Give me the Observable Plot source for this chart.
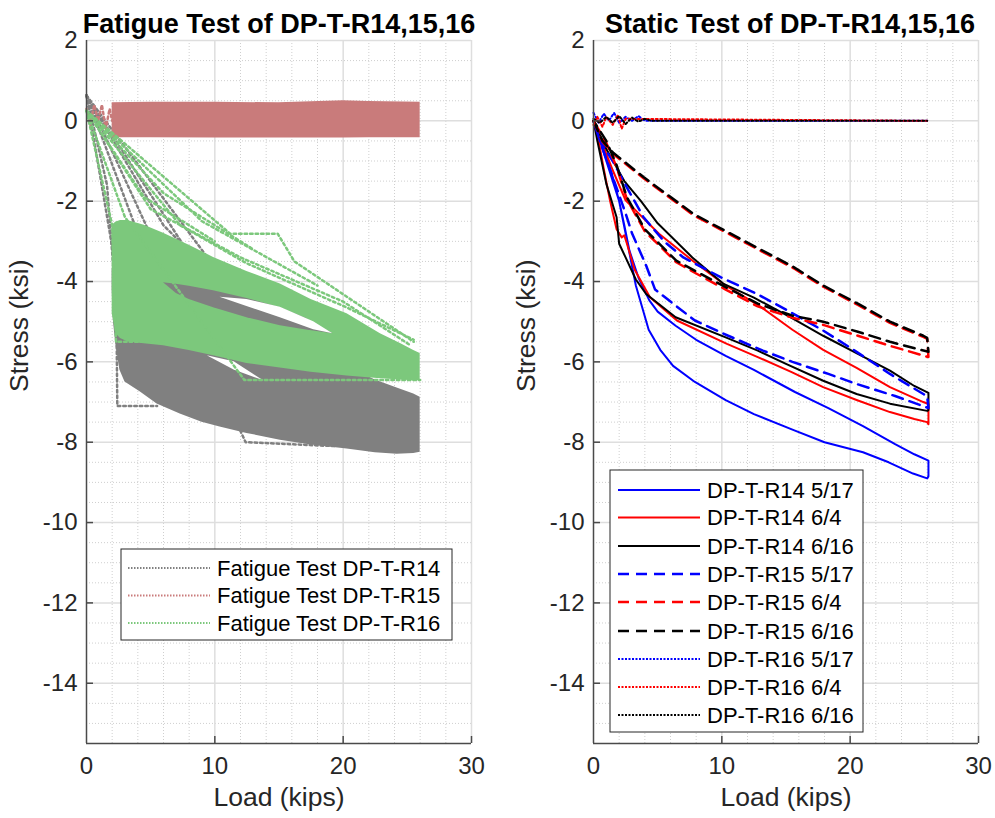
<!DOCTYPE html>
<html><head><meta charset="utf-8">
<script src="https://cdn.jsdelivr.net/npm/d3@7"></script>
<script src="https://cdn.jsdelivr.net/npm/@observablehq/plot@0.6"></script>
<style>
html,body{margin:0;padding:0;background:#fff;}
#wrap{position:relative;width:995px;height:818px;overflow:hidden;}
#left{position:absolute;left:0;top:0;}
#right{position:absolute;left:497px;top:0;}
</style></head><body><div id="wrap"><div id="left"></div><div id="right"></div></div>
<script>
// ---------- axes / ticks ----------
const xMajor = [0, 10, 20, 30];
const xMinor = [2, 4, 6, 8, 12, 14, 16, 18, 22, 24, 26, 28];
const yMajor = [2, 0, -2, -4, -6, -8, -10, -12, -14];
const yMinor = [1.5, 1, 0.5, -0.5, -1, -1.5, -2.5, -3, -3.5, -4.5, -5, -5.5, -6.5, -7, -7.5, -8.5, -9, -9.5, -10.5, -11, -11.5, -12.5, -13, -13.5, -14.5, -15];
const xDomain = [0, 30];
const yDomain = [-15.5, 2];

const leftTitle = "Fatigue Test of DP-T-R14,15,16";
const rightTitle = "Static Test of DP-T-R14,15,16";
const xLabel = "Load (kips)";
const yLabel = "Stress (ksi)";

// ---------- fatigue test (left) ----------
const fatigueNames = ["Fatigue Test DP-T-R14", "Fatigue Test DP-T-R15", "Fatigue Test DP-T-R16"];
const fatigueColors = ["#808080", "#c97b7b", "#7cc87c"];

// R14 band (gray)
const r14BandX    = [2.0, 2.1, 2.3, 2.6, 3.0, 4.2, 5.5, 7.3, 9.0, 10.4, 12.5, 15.1, 17.5, 20.3, 22.5, 24.2, 25.5, 26.0];
const r14BandHigh = [-3.68, -3.69, -3.7, -3.75, -3.8, -3.9, -4.0, -4.2, -4.4, -4.6, -4.85, -5.15, -5.6, -6.1, -6.45, -6.65, -6.8, -6.88];
const r14BandLow  = [-4.2, -5.0, -5.6, -6.2, -6.5, -6.75, -7.05, -7.3, -7.5, -7.62, -7.78, -7.95, -8.07, -8.17, -8.26, -8.3, -8.28, -8.25];
// white gaps inside the R14 band
const r14GapX    = [9.4, 11.5, 13.8];
const r14GapHigh = [-5.85, -6.0, -6.47];
const r14GapLow  = [-5.85, -6.2, -6.47];
// R15 band (red)
const r15BandX    = [2.0, 5, 10, 15, 20, 22, 26.0];
const r15BandHigh = [0.45, 0.46, 0.46, 0.45, 0.5, 0.48, 0.46];
const r15BandLow  = [-0.42, -0.42, -0.43, -0.43, -0.43, -0.42, -0.42];
// R16 band (green)
const r16BandX    = [2.0, 2.3, 2.65, 3.2, 4.5, 6.0, 8.0, 9.9, 12.5, 15.1, 17.5, 20.3, 22.9, 24.5, 25.5, 26.0];
const r16BandHigh = [-2.6, -2.52, -2.48, -2.48, -2.6, -2.8, -3.1, -3.4, -3.75, -4.06, -4.45, -4.8, -5.3, -5.55, -5.72, -5.79];
const r16BandLow  = [-4.8, -5.3, -5.42, -5.5, -5.55, -5.6, -5.72, -5.85, -6.04, -6.15, -6.26, -6.35, -6.42, -6.45, -6.47, -6.47];
// hole inside R16 band (shows R14 beneath)
const r16HoleX    = [6.0, 7.0, 8.0, 9.9, 12.5, 15.1, 17.0, 19.2];
const r16HoleHigh = [-4.03, -4.07, -4.12, -4.23, -4.42, -4.65, -4.9, -5.3];
const r16HoleLow  = [-4.03, -4.3, -4.45, -4.65, -4.9, -5.1, -5.2, -5.3];
const r16SliverX    = [10.4, 12.5, 15.1, 17.7, 19.2];
const r16SliverHigh = [-4.39, -4.45, -4.64, -5.0, -5.3];
const r16SliverLow  = [-4.39, -4.62, -4.9, -5.2, -5.3];

// dotted ramp lines (segment id, x, y)
const r14Ramps = [
  [1, 0, 0.63], [1, 2.3, -3.7], [1, 2.4, -7.1], [1, 5.5, -7.1],
  [2, 0, 0.63], [2, 12.0, -4.5],
  [3, 0, 0.63], [3, 10.0, -4.3],
  [4, 0, 0.63], [4, 4.0, -2.8], [4, 8.0, -4.0],
  [5, 0, 0.63], [5, 12.4, -8.0], [5, 19.5, -8.1],
  [6, 0, 0.63], [6, 1.6, -1.6], [6, 2.1, -3.7],
  [7, 0, 0.63], [7, 6.0, -2.6], [7, 11.0, -4.2]
];
const r15Ramps = [
  [1, 0, 0.3], [1, 0.3, -0.1], [1, 0.6, 0.4], [1, 0.9, 0.0], [1, 1.2, 0.4], [1, 1.5, -0.2], [1, 1.8, 0.3], [1, 2.0, 0.0]
];
const r16Ramps = [
  [1, 0, 0.25], [1, 11.2, -2.81], [1, 14.9, -2.81], [1, 16.2, -3.5], [1, 25.5, -5.5],
  [2, 0, 0.25], [2, 7.3, -2.6], [2, 12.5, -3.55], [2, 20.3, -4.65], [2, 25.5, -5.45],
  [3, 0, 0.25], [3, 5.0, -2.2], [3, 12.0, -3.4], [3, 20.0, -4.5], [3, 25.3, -5.6],
  [4, 0, 0.25], [4, 2.0, -2.6], [4, 2.3, -5.5], [4, 6.0, -5.5],
  [5, 0, 0.25], [5, 3.0, -2.4], [5, 12.3, -6.45], [5, 26.0, -6.45],
  [6, 0, 0.25], [6, 4.5, -1.9], [6, 10.0, -3.0],
  [7, 0, 0.25], [7, 6.0, -1.8], [7, 13.0, -3.2],
  [8, 0, 0.25], [8, 9.0, -2.5], [8, 18.0, -4.1]
];

// ---------- static test (right) ----------
const staticNames = ["DP-T-R14 5/17", "DP-T-R14 6/4", "DP-T-R14 6/16",
                     "DP-T-R15 5/17", "DP-T-R15 6/4", "DP-T-R15 6/16",
                     "DP-T-R16 5/17", "DP-T-R16 6/4", "DP-T-R16 6/16"];
const staticColors = ["#0000ff", "#ff0000", "#000000", "#0000ff", "#ff0000", "#000000", "#0000ff", "#ff0000", "#000000"];
const staticStyles = ["solid", "solid", "solid", "dash", "dash", "dash", "dot", "dot", "dot"];

const r14_0517 = [[0,0],[1,-1.0],[2,-2.0],[2.5,-2.8],[3.3,-4.1],[4.3,-5.2],[5.2,-5.7],[6.2,-6.1],[7.9,-6.5],[10.3,-6.95],[12.5,-7.3],[15.6,-7.7],[18,-8.0],[21,-8.25],[23,-8.5],[24.9,-8.78],[26,-8.9],[26.1,-8.85],[26.1,-8.46],[25,-8.3],[23.5,-8.05],[21,-7.6],[18.3,-7.15],[15.7,-6.75],[12.5,-6.2],[10.3,-5.85],[8,-5.45],[6.4,-5.1],[5,-4.75],[4.35,-4.47],[3.5,-3.9],[2.8,-3.23],[2.4,-2.6],[2,-2.0],[1.5,-1.4],[1,-0.9],[0.5,-0.4],[0,0]];
const r14_0604 = [[0,0],[0.4,-0.5],[0.8,-1.2],[1.3,-2.0],[1.8,-2.7],[2.2,-2.9],[2.4,-2.85],[2.6,-3.05],[3.2,-3.7],[4.4,-4.39],[6.5,-4.97],[10.4,-5.55],[12.8,-5.88],[15.4,-6.25],[17.9,-6.63],[20.5,-6.95],[23.1,-7.25],[25,-7.42],[26,-7.5],[26.1,-7.55],[26.1,-7.05],[25.7,-7.0],[23.1,-6.63],[20.5,-6.15],[17.9,-5.7],[15.5,-5.2],[12.9,-4.6],[10.3,-4.1],[7.8,-3.5],[5.1,-2.81],[2.5,-1.98],[1.5,-1.23],[0.6,-0.5],[0,0]];
const r14_0616 = [[0,0],[0.3,-0.5],[1.0,-1.57],[1.8,-2.4],[2.0,-3.06],[2.5,-3.4],[3.3,-3.95],[4.1,-4.31],[6.4,-4.89],[10.3,-5.39],[12.8,-5.72],[15,-6.05],[17.9,-6.47],[20.5,-6.8],[23.1,-7.04],[26,-7.22],[26.1,-7.2],[26.1,-6.77],[25,-6.6],[23.1,-6.22],[20.6,-5.8],[17.9,-5.35],[15.4,-4.9],[12.5,-4.4],[10.1,-4.05],[7.7,-3.4],[5,-2.55],[3.7,-2.0],[2.4,-1.5],[1,-0.7],[0,0]];
const r15_0517 = [[0,0],[0.5,-0.5],[1.5,-1.0],[2.5,-1.6],[3.9,-2.4],[5.5,-3.0],[7,-3.4],[9.9,-3.89],[12.8,-4.32],[15,-4.7],[17.9,-5.22],[20.5,-5.75],[23.1,-6.3],[25.7,-6.8],[26,-6.85],[26.1,-7.15],[23.5,-6.85],[20.5,-6.55],[18.3,-6.3],[15.5,-6.0],[13.2,-5.72],[10.5,-5.35],[7.9,-4.97],[6.2,-4.55],[4.8,-4.2],[4.1,-3.6],[3,-2.8],[2.5,-2.3],[1.5,-1.4],[0.5,-0.5],[0,0]];
const r15_0604 = [[0,0],[0.7,-0.52],[1.56,-0.83],[3.9,-1.43],[7.8,-2.35],[11.7,-3.01],[15.6,-3.67],[17.9,-4.13],[20.6,-4.58],[23.1,-5.03],[25.7,-5.38],[26,-5.43],[26.1,-5.88],[23.1,-5.6],[20.6,-5.35],[17.9,-5.08],[15.5,-4.9],[12.8,-4.62],[10.3,-4.2],[8,-3.8],[6.45,-3.52],[4,-2.75],[2.6,-1.95],[1.8,-1.15],[1,-0.55],[0,0]];
const r15_0616 = [[0,0],[0.7,-0.5],[1.56,-0.8],[3.9,-1.4],[7.8,-2.32],[11.7,-2.98],[15.6,-3.64],[17.9,-4.1],[20.6,-4.55],[23.1,-5.0],[25.7,-5.35],[26,-5.4],[26.1,-5.75],[23.1,-5.5],[20.6,-5.25],[17.9,-5.0],[15.5,-4.85],[12.8,-4.55],[10.3,-4.14],[8,-3.75],[6.45,-3.48],[4,-2.7],[2.6,-1.9],[1.8,-1.1],[1,-0.5],[0,0]];
const r16_0517 = [[0,0.2],[0.4,-0.05],[0.8,0.18],[1.2,0.0],[1.6,0.2],[2.0,-0.05],[2.5,0.1],[3.0,0.0],[3.5,0.12],[4.0,0.0],[26,0.0]];
const r16_0604 = [[0,-0.1],[0.3,0.1],[0.7,-0.15],[1.0,0.1],[1.5,-0.1],[1.9,0.15],[2.2,-0.2],[2.5,0.05],[26,0.0]];
const r16_0616 = [[0,0.05],[0.5,-0.05],[1,0.1],[1.5,-0.05],[2,0.12],[2.5,-0.08],[3,0.08],[3.5,-0.02],[4,0.05],[4.5,0],[26,0]];
const staticSeries = [r14_0517, r14_0604, r14_0616, r15_0517, r15_0604, r15_0616, r16_0517, r16_0604, r16_0616];

// ---------- helpers ----------
const FONT = "'Liberation Sans', Arial, Helvetica, sans-serif";
const AXIS = "#4a4a4a";
const TXT = "#262626";
const dashOf = {solid: null, dash: "11,7", dot: "2,2.5"};
const widthOf = {solid: 2, dash: 2.5, dot: 2};

function band(xs, lo, hi) { return xs.map((x, i) => ({x, lo: lo[i], hi: hi[i]})); }
function ramps(rows) { return rows.map(([id, x, y]) => ({id, x, y})); }

function frameMarks() {
  return [
    Plot.gridY({ticks: yMinor, stroke: "#cfcfcf", strokeOpacity: 1, strokeWidth: 1, strokeDasharray: "1,2"}),
    Plot.gridX({ticks: xMinor, stroke: "#cfcfcf", strokeOpacity: 1, strokeWidth: 1, strokeDasharray: "1,2"}),
    Plot.gridY({ticks: yMajor, stroke: "#dedede", strokeOpacity: 1, strokeWidth: 1.5}),
    Plot.gridX({ticks: xMajor.slice(1), stroke: "#dedede", strokeOpacity: 1, strokeWidth: 1.5}),
  ];
}
function axisMarks(title, titleDx) {
  return [
    Plot.ruleX([xDomain[0]], {stroke: AXIS, strokeWidth: 1.5}),
    Plot.ruleY([yDomain[0]], {stroke: AXIS, strokeWidth: 1.5}),
    Plot.axisX({ticks: xMajor, tickSize: 0, tickPadding: 13, tickFormat: d => String(d), label: null, fill: TXT}),
    Plot.axisY({ticks: yMajor, tickSize: 0, tickPadding: 9, tickFormat: d => String(d), label: null, fill: TXT}),
    Plot.axisX({ticks: xMajor.slice(1), tickSize: 7, dy: -7, tickFormat: () => "", label: null, stroke: AXIS, strokeWidth: 1.5}),
    Plot.axisY({ticks: yMajor.slice(1), tickSize: 7, dx: 7, tickFormat: () => "", label: null, stroke: AXIS, strokeWidth: 1.5}),
    Plot.text([title], {text: d => d, frameAnchor: "top", dy: -27, dx: titleDx, fontSize: 27, fontWeight: "bold", fill: "#000"}),
    Plot.text([xLabel], {text: d => d, frameAnchor: "bottom", dy: 62, fontSize: 26.5, fill: TXT}),
    Plot.text([yLabel], {text: d => d, frameAnchor: "left", dx: -67, rotate: -90, fontSize: 26.5, fill: TXT})
  ];
}
const common = {
  height: 818, marginTop: 40, marginBottom: 75,
  x: {domain: xDomain}, y: {domain: yDomain},
  style: {fontFamily: FONT, fontSize: "24px", color: TXT, background: "white", overflow: "visible"}
};

// ---------- left chart ----------
const left = Plot.plot({
  ...common, width: 497, marginLeft: 86, marginRight: 26,
  marks: [
    ...frameMarks(),
    Plot.areaY(band(r14BandX, r14BandLow, r14BandHigh), {x: "x", y1: "lo", y2: "hi", fill: fatigueColors[0]}),
    Plot.areaY(band(r14GapX, r14GapLow, r14GapHigh), {x: "x", y1: "lo", y2: "hi", fill: "white"}),
    Plot.line(ramps(r14Ramps), {x: "x", y: "y", z: "id", stroke: fatigueColors[0], strokeWidth: 2.5, strokeDasharray: "2.5,3"}),
    Plot.areaY(band(r15BandX, r15BandLow, r15BandHigh), {x: "x", y1: "lo", y2: "hi", fill: fatigueColors[1]}),
    Plot.line(ramps(r15Ramps), {x: "x", y: "y", z: "id", stroke: fatigueColors[1], strokeWidth: 2.5, strokeDasharray: "2.5,3"}),
    Plot.areaY(band(r16BandX, r16BandLow, r16BandHigh), {x: "x", y1: "lo", y2: "hi", fill: fatigueColors[2]}),
    Plot.areaY(band(r16HoleX, r16HoleLow, r16HoleHigh), {x: "x", y1: "lo", y2: "hi", fill: fatigueColors[0]}),
    Plot.areaY(band(r16SliverX, r16SliverLow, r16SliverHigh), {x: "x", y1: "lo", y2: "hi", fill: "white"}),
    Plot.line(ramps(r16Ramps), {x: "x", y: "y", z: "id", stroke: fatigueColors[2], strokeWidth: 2.5, strokeDasharray: "2.5,3"}),
    ...axisMarks(leftTitle, 0)
  ]
});
document.getElementById("left").appendChild(left);

// ---------- right chart ----------
const right = Plot.plot({
  ...common, width: 498, marginLeft: 96, marginRight: 17,
  marks: [
    ...frameMarks(),
    ...staticSeries.map((s, i) => Plot.line(s, {
      x: d => d[0], y: d => d[1], stroke: staticColors[i], strokeWidth: widthOf[staticStyles[i]],
      strokeDasharray: dashOf[staticStyles[i]], strokeLinejoin: "round"
    })),
    ...axisMarks(rightTitle, 4)
  ]
});
document.getElementById("right").appendChild(right);

// ---------- legends (drawn into the plot svgs) ----------
function legend(svg, box, names, colors, dashes, widths, rowY, x1, x2, tx) {
  const g = d3.select(svg).append("g");
  g.append("rect").attr("x", box[0]).attr("y", box[1]).attr("width", box[2]).attr("height", box[3])
    .attr("fill", "white").attr("stroke", "#262626").attr("stroke-width", 1);
  names.forEach((n, i) => {
    g.append("line").attr("x1", x1).attr("x2", x2).attr("y1", rowY[i]).attr("y2", rowY[i])
      .attr("stroke", colors[i]).attr("stroke-width", widths[i])
      .attr("stroke-dasharray", dashes[i]);
    g.append("text").attr("x", tx).attr("y", rowY[i]).attr("dy", "0.35em")
      .attr("text-anchor", "start")
      .attr("font-size", 22).attr("font-family", FONT).attr("fill", "#000").text(n);
  });
}
legend(left, [121, 549, 331, 91], fatigueNames, fatigueColors,
  ["1.5,1.5", "1.5,1.5", "1.5,1.5"], [2, 2, 2], [568, 595.5, 623], 128, 210, 217);
legend(right, [113, 470, 253, 262], staticNames, staticColors,
  staticStyles.map(s => s === "solid" ? null : s === "dash" ? "11,7" : "2,1.5"),
  staticStyles.map(s => widthOf[s]),
  [490, 517.5, 546, 574, 602, 631, 659, 687, 715], 121, 203, 210);
</script></body></html>
